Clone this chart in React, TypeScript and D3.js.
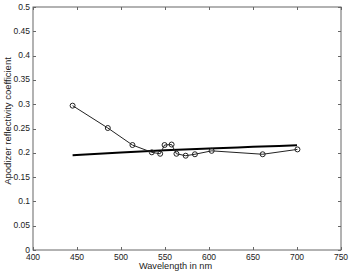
import React, { useEffect, useRef } from 'react';
import * as d3 from 'd3';

// measured apodizer points (circles)
const measWl = [445, 485, 513, 535, 544.5, 549.5, 557.5, 563, 573.5, 584, 603, 661, 700.5];
const measR = [0.297, 0.251, 0.216, 0.201, 0.198, 0.216, 0.217, 0.198, 0.194, 0.197, 0.204, 0.197, 0.207];

// model curve (thick line)
const modelWl = [445, 500, 550, 600, 650, 700];
const modelR = [0.195, 0.2005, 0.205, 0.2088, 0.2122, 0.2155];

const xTicks = [400, 450, 500, 550, 600, 650, 700, 750];
const yTicks = [0, 0.05, 0.1, 0.15, 0.2, 0.25, 0.3, 0.35, 0.4, 0.45, 0.5];

const W = 350, H = 273;
const L = 33, R = 341, T = 7, B = 250;

const App = () => {
    const ref = useRef(null);

    useEffect(() => {
        const g = d3.select(ref.current);
        g.selectAll('*').remove();

        const x = d3.scaleLinear().domain([400, 750]).range([L, R]);
        const y = d3.scaleLinear().domain([0, 0.5]).range([B, T]);
        const font = 'Liberation Sans, Arial, sans-serif';
        const axisCol = '#666';

        // box
        g.append('rect')
            .attr('x', L).attr('y', T)
            .attr('width', R - L).attr('height', B - T)
            .attr('fill', 'none').attr('stroke', axisCol).attr('stroke-width', 1);

        // ticks inside on all sides
        xTicks.forEach(t => {
            const px = Math.round(x(t)) + 0.5;
            g.append('line').attr('x1', px).attr('x2', px).attr('y1', B).attr('y2', B - 3).attr('stroke', axisCol);
            g.append('line').attr('x1', px).attr('x2', px).attr('y1', T).attr('y2', T + 3).attr('stroke', axisCol);
            g.append('text').attr('x', x(t)).attr('y', B + 9.5)
                .attr('text-anchor', 'middle').attr('font-family', font).attr('font-size', 8.5)
                .attr('fill', '#222').text(t);
        });
        yTicks.forEach(t => {
            const py = Math.round(y(t)) + 0.5;
            g.append('line').attr('x1', L).attr('x2', L + 3).attr('y1', py).attr('y2', py).attr('stroke', axisCol);
            g.append('line').attr('x1', R).attr('x2', R - 3).attr('y1', py).attr('y2', py).attr('stroke', axisCol);
            g.append('text').attr('x', L - 3).attr('y', y(t) + 2.5)
                .attr('text-anchor', 'end').attr('font-family', font).attr('font-size', 8.5)
                .attr('fill', '#222').text(t);
        });

        // axis labels
        g.append('text').attr('x', 175.5).attr('y', 268.5)
            .attr('text-anchor', 'middle').attr('font-family', font).attr('font-size', 9.2)
            .attr('fill', '#222').text('Wavelength in nm');
        g.append('text').attr('transform', `translate(11 121) rotate(-90)`)
            .attr('text-anchor', 'middle').attr('font-family', font).attr('font-size', 9.5)
            .attr('fill', '#222').text('Apodizer reflectivity coefficient');

        const model = modelWl.map((w, i) => [w, modelR[i]]);
        const meas = measWl.map((w, i) => [w, measR[i]]);

        const line = d3.line()
            .x(d => x(d[0]))
            .y(d => y(d[1]));

        g.append('path').attr('d', line.curve(d3.curveMonotoneX)(model))
            .attr('fill', 'none').attr('stroke', '#000').attr('stroke-width', 2);

        g.append('path').attr('d', d3.line().x(d => x(d[0])).y(d => y(d[1]))(meas))
            .attr('fill', 'none').attr('stroke', '#222').attr('stroke-width', 1);

        g.selectAll('circle.pt').data(meas).enter().append('circle')
            .attr('class', 'pt')
            .attr('cx', d => x(d[0])).attr('cy', d => y(d[1]))
            .attr('r', 2.5).attr('fill', 'none').attr('stroke', '#222').attr('stroke-width', 1);
    }, []);

    return (
        <svg width={W} height={H} style={{ position: 'absolute', left: 0, top: 0, background: '#fff' }}>
            <g ref={ref} />
        </svg>
    );
};

export default App;
